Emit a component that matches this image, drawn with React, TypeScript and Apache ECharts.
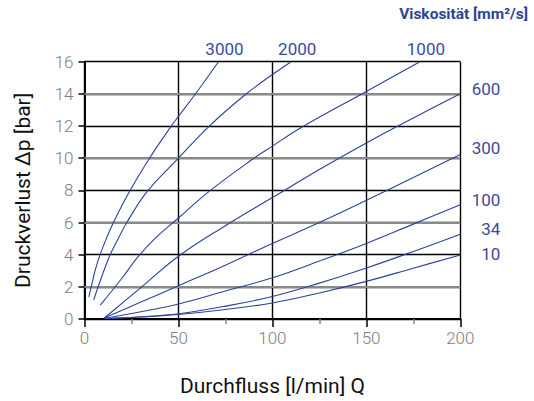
import React, { useEffect, useRef } from "react";
import * as echarts from "echarts";

// Viscosity curve labels (mm²/s)
const viscosities = ["3000", "2000", "1000", "600", "300", "100", "34", "10"];

// Flow Q [l/min] and pressure loss Δp [bar], per curve
const q3000 = [2.3, 3.8, 5.6, 8.3, 11.6, 15.4, 24.3, 34.6, 45.6, 50, 60, 71.3];
const p3000 = [1.37, 2.1, 3.0, 4.0, 5.0, 6.0, 8.0, 10.0, 11.9, 12.6, 14.15, 16.0];

const q2000 = [4.9, 7.4, 13.3, 18.2, 22.5, 33.5, 50, 66, 85, 100, 110];
const p2000 = [1.17, 2.05, 3.9, 5.06, 6.0, 7.95, 10.0, 11.95, 13.9, 15.2, 16.0];

const q1000 = [8.4, 20, 28, 37.4, 50, 66.5, 89, 100, 114.5, 150, 178.5];
const p1000 = [0.86, 2.55, 3.8, 5.0, 6.28, 7.95, 9.9, 10.75, 11.85, 14.15, 16.0];

const q600 = [10.7, 30, 50, 75, 100, 125, 150, 175, 200];
const p600 = [0.08, 1.95, 3.9, 5.8, 7.55, 9.3, 10.95, 12.5, 14.0];

const q300 = [10.7, 30, 50, 75, 100, 125, 150, 175, 200];
const p300 = [0.08, 1.05, 2.07, 3.35, 4.7, 6.0, 7.38, 8.8, 10.23];

const q100 = [10.7, 30, 50, 75, 100, 125, 150, 175, 200];
const p100 = [0.05, 0.45, 0.93, 1.74, 2.56, 3.6, 4.7, 5.9, 7.1];

const q34 = [10.7, 30, 50, 75, 100, 125, 150, 175, 200];
const p34 = [0.03, 0.14, 0.33, 0.8, 1.4, 2.23, 3.17, 4.2, 5.27];

const q10 = [10.7, 30, 50, 75, 100, 125, 150, 175, 200];
const p10 = [0.02, 0.12, 0.28, 0.59, 1.0, 1.62, 2.34, 3.16, 3.98];

const flows = [q3000, q2000, q1000, q600, q300, q100, q34, q10];
const pressures = [p3000, p2000, p1000, p600, p300, p100, p34, p10];

// Axis ticks
const xTicks = [0, 50, 100, 150, 200];
const yTicks = [0, 2, 4, 6, 8, 10, 12, 14, 16];
// horizontal grid lines drawn in grey (the others are black)
const greyGridLines = [2, 6, 10, 14];

const xTitle = "Durchfluss [l/min] Q";
const yTitle = "Druckverlust Δp [bar]";
const legendTitle = "Viskosität [mm²/s]";

const LINE = "#2b429c";
const LABEL = "#3a4c9c";
const TICK = "#7d7d7d";

// label placement relative to curve end (layout only)
const labelMode = ["top", "top", "top", "right", "right", "right", "right", "right"];
const labelDy = [0, 0, 0, -4.6, -6, -4.5, -5.5, -1];

export default function App() {
  const ref = useRef<HTMLDivElement>(null);

  useEffect(() => {
    if (!ref.current) return;
    const chart = echarts.init(ref.current, null, { renderer: "svg" });
    const series: any[] = viscosities.map((name, i) => ({
      name,
      type: "line",
      data: flows[i].map((q, j) => [q, pressures[i][j]]),
      showSymbol: false,
      symbol: "none",
      smooth: 0.4,
      lineStyle: { color: LINE, width: 1.1 },
      z: 5,
    }));
    series.push({
      name: "grid-grey",
      type: "line",
      data: [],
      z: 1,
      silent: true,
      markLine: {
        silent: true,
        symbol: "none",
        label: { show: false },
        lineStyle: { color: "#8a8a8a", width: 2, type: "solid" },
        data: greyGridLines.map((v) => ({ yAxis: v })),
      },
    });

    chart.setOption({
      animation: false,
      textStyle: { fontFamily: "Roboto" },
      grid: { left: 84.5, right: 73.7, top: 61.7, bottom: 78.7, containLabel: false },
      xAxis: {
        type: "value",
        min: xTicks[0],
        max: xTicks[xTicks.length - 1],
        interval: 50,
        name: xTitle,
        nameLocation: "middle",
        nameGap: 56,
        nameTextStyle: { fontFamily: "Roboto", fontSize: 21, color: "#111" },
        axisLine: { show: true, onZero: false, lineStyle: { color: "#000", width: 2 } },
        axisTick: { show: true, length: 8, lineStyle: { color: "#000", width: 1.5 } },
        minorTick: { show: true, splitNumber: 2, length: 5, lineStyle: { color: "#888", width: 1.5 } },
        axisLabel: { margin: 10, fontFamily: "Roboto", fontWeight: 300, fontSize: 17, color: TICK },
        splitLine: { show: true, lineStyle: { color: "#000", width: 1.4 } },
      },
      yAxis: {
        type: "value",
        min: yTicks[0],
        max: yTicks[yTicks.length - 1],
        interval: 2,
        name: yTitle,
        nameLocation: "middle",
        nameGap: 51,
        nameRotate: 90,
        nameTextStyle: { fontFamily: "Roboto", fontSize: 21, color: "#111" },
        axisLine: { show: true, onZero: false, lineStyle: { color: "#000", width: 2 } },
        axisTick: { show: true, length: 6, lineStyle: { color: "#000", width: 1.5 } },
        axisLabel: { margin: 11, fontFamily: "Roboto", fontWeight: 300, fontSize: 17, color: TICK },
        splitLine: { show: true, lineStyle: { color: "#000", width: 1.4 } },
      },
      series,
    });

    const graphics: any[] = [
      {
        type: "text",
        right: 6,
        top: 6,
        style: {
          text: legendTitle,
          fontFamily: "Roboto",
          fontWeight: "bold",
          fontSize: 15.5,
          fill: "#2d4494",
        },
      },
    ];
    viscosities.forEach((name, i) => {
      const n = flows[i].length;
      const pt = chart.convertToPixel({ xAxisIndex: 0, yAxisIndex: 0 }, [flows[i][n - 1], pressures[i][n - 1]]);
      if (!pt) return;
      if (labelMode[i] === "top") {
        graphics.push({
          type: "text",
          x: pt[0] + 6,
          y: pt[1] - 12.5,
          style: { text: name, fontFamily: "Roboto", fontSize: 17, fill: LABEL, align: "center", verticalAlign: "middle" },
        });
      } else {
        graphics.push({
          type: "text",
          x: pt[0] + 40,
          y: pt[1] + labelDy[i],
          style: { text: name, fontFamily: "Roboto", fontSize: 17, fill: LABEL, align: "right", verticalAlign: "middle" },
        });
      }
    });
    chart.setOption({ graphic: graphics });

    return () => chart.dispose();
  }, []);

  return (
    <div
      ref={ref}
      style={{ position: "absolute", left: 0, top: 0, width: 534, height: 401, overflow: "hidden" }}
    />
  );
}
